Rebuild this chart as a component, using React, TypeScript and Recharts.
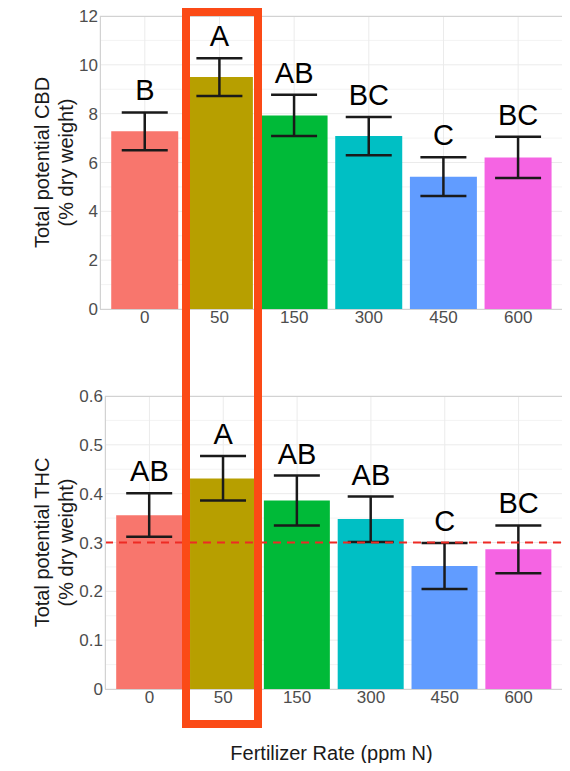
import React from 'react';
import {
  ComposedChart,
  Bar,
  Line,
  XAxis,
  YAxis,
  CartesianGrid,
  ErrorBar,
  ReferenceLine,
  LabelList,
  Cell,
} from 'recharts';

const rates = ['0', '50', '150', '300', '450', '600'];
const barColors = ['#F8766D', '#B79F00', '#00BA38', '#00BFC4', '#619CFF', '#F564E3'];

// total potential CBD (% dry weight)
const cbdMean = [7.28, 9.5, 7.93, 7.09, 5.42, 6.2];
const cbdLow = [6.5, 8.72, 7.09, 6.3, 4.63, 5.37];
const cbdHigh = [8.05, 10.27, 8.77, 7.86, 6.22, 7.05];
const cbdLetters = ['B', 'A', 'AB', 'BC', 'C', 'BC'];
const cbdTicks = [0, 2, 4, 6, 8, 10, 12];
const cbdMinor = [1, 3, 5, 7, 9, 11];

// total potential THC (% dry weight)
const thcMean = [0.356, 0.431, 0.386, 0.348, 0.252, 0.286];
const thcLow = [0.312, 0.386, 0.335, 0.301, 0.205, 0.237];
const thcHigh = [0.401, 0.477, 0.437, 0.394, 0.299, 0.335];
const thcLetters = ['AB', 'A', 'AB', 'AB', 'C', 'BC'];
const thcTicks = [0, 0.1, 0.2, 0.3, 0.4, 0.5, 0.6];
const thcMinor = [0.05, 0.15, 0.25, 0.35, 0.45, 0.55];
const thcLimit = 0.3;

const FONT = '"Liberation Sans", Arial, sans-serif';

const buildRows = (mean: number[], low: number[], high: number[], letters: string[]) =>
  rates.map((rate, i) => ({
    rate,
    mean: mean[i],
    err: [mean[i] - low[i], high[i] - mean[i]],
    high: high[i],
    letter: letters[i],
  }));

const renderLetter = (props: any) => {
  const { x, y, value } = props;
  return (
    <text x={x} y={y - 12} textAnchor="middle" fontSize={29} fill="#000" fontFamily={FONT}>
      {value}
    </text>
  );
};

const yTitle = (lines: string[]) => (props: any) => {
  const vb = props.viewBox || {};
  const cy = (vb.y || 0) + (vb.height || 0) / 2;
  const xs = [42, 66];
  return (
    <g>
      {lines.map((l, i) => (
        <text
          key={i}
          x={xs[i]}
          y={cy}
          transform={`rotate(-90, ${xs[i]}, ${cy})`}
          textAnchor="middle"
          dominantBaseline="central"
          fontSize={20}
          fill="#1a1a1a"
          fontFamily={FONT}
        >
          {l}
        </text>
      ))}
    </g>
  );
};

function Panel({ rows, ticks, minor, title, limit, axisWidth }: any) {
  const max = ticks[ticks.length - 1];
  return (
    <div style={{ position: 'relative', width: 570, height: 340 }}>
      <ComposedChart
        width={570}
        height={340}
        data={rows}
        margin={{ top: 16, right: 7, left: 0, bottom: 0 }}
        barCategoryGap="5%"
      >
        <CartesianGrid stroke="#f3f3f3" strokeWidth={1} vertical={false} horizontalValues={minor} />
        <CartesianGrid stroke="#ebebeb" strokeWidth={1} />
        <XAxis
          dataKey="rate"
          height={31}
          padding={{ left: 7.5, right: 7.5 }}
          axisLine={false}
          tickLine={false}
          tickSize={1}
          tickMargin={1}
          tick={{ fontSize: 17, fill: '#4d4d4d', fontFamily: FONT }}
        />
        <YAxis
          width={axisWidth}
          domain={[0, max]}
          ticks={ticks}
          interval={0}
          axisLine={false}
          tickLine={false}
          tickSize={0}
          tickMargin={2}
          tick={{ fontSize: 17, fill: '#4d4d4d', fontFamily: FONT }}
          label={{ content: yTitle(title) }}
        />
        <Bar dataKey="mean" isAnimationActive={false}>
          {rows.map((_: any, i: number) => (
            <Cell key={i} fill={barColors[i]} />
          ))}
          <ErrorBar dataKey="err" direction="y" width={23} stroke="#1a1a1a" strokeWidth={2.5} />
        </Bar>
        {limit !== undefined && (
          <ReferenceLine y={limit} stroke="#ee2a24" strokeWidth={2} strokeDasharray="8 6" />
        )}
        <Line
          dataKey="high"
          stroke="none"
          dot={false}
          activeDot={false}
          legendType="none"
          isAnimationActive={false}
        >
          <LabelList dataKey="letter" content={renderLetter} />
        </Line>
      </ComposedChart>
      <div
        style={{
          position: 'absolute',
          left: axisWidth,
          top: 16,
          width: 563 - axisWidth,
          height: 294,
          border: '1px solid #d2d2d2',
          boxSizing: 'border-box',
          pointerEvents: 'none',
        }}
      />
    </div>
  );
}

export default function App() {
  const cbdRows = buildRows(cbdMean, cbdLow, cbdHigh, cbdLetters);
  const thcRows = buildRows(thcMean, thcLow, thcHigh, thcLetters);
  return (
    <div
      style={{
        position: 'relative',
        width: 570,
        height: 771,
        margin: -8,
        background: '#fff',
        fontFamily: FONT,
        overflow: 'hidden',
      }}
    >
      <div style={{ position: 'absolute', left: 0, top: 0 }}>
        <Panel
          rows={cbdRows}
          ticks={cbdTicks}
          minor={cbdMinor}
          axisWidth={100}
          title={['Total potential CBD', '(% dry weight)']}
        />
      </div>
      <div style={{ position: 'absolute', left: 0, top: 380 }}>
        <Panel
          rows={thcRows}
          ticks={thcTicks}
          minor={thcMinor}
          axisWidth={105}
          title={['Total potential THC', '(% dry weight)']}
          limit={thcLimit}
        />
      </div>
      <div
        style={{
          position: 'absolute',
          left: 100,
          width: 463,
          top: 741,
          textAlign: 'center',
          fontSize: 20,
          lineHeight: '24px',
          color: '#1a1a1a',
        }}
      >
        Fertilizer Rate (ppm N)
      </div>
      <div
        style={{
          position: 'absolute',
          left: 182,
          top: 8,
          width: 80,
          height: 720,
          border: '8px solid #fb4a16',
          boxSizing: 'border-box',
          pointerEvents: 'none',
        }}
      />
    </div>
  );
}
